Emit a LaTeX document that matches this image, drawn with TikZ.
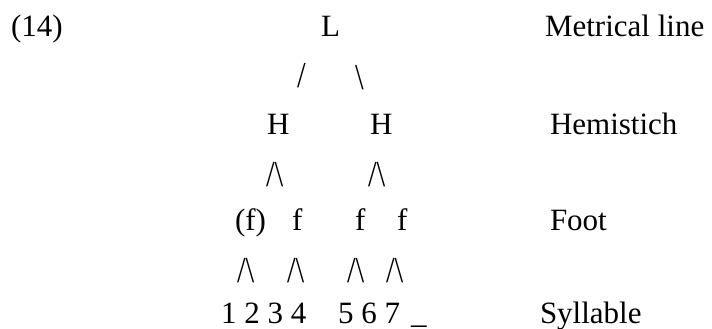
\documentclass[tikz,border=0pt]{standalone}
\usepackage{fontspec}
\usepackage{graphicx}
\setmainfont{Liberation Serif}
\newcommand{\tallsl}[1]{\scalebox{1}[1.18]{#1}}
\begin{document}
\begin{tikzpicture}[x=1pt,y=-1pt,
  txt/.style={anchor=base west,inner sep=0pt,outer sep=0pt,font=\fontsize{31}{36}\selectfont}]
\useasboundingbox (0,0) rectangle (712,329);
% left number
\node[txt] (num) at (11,37) {(14)};
% tree
\node[txt] (L) at (321,37) {L};
\node[txt] (sl1) at (297,87) {\tallsl{/}};
\node[txt] (bs1) at (355,89) {\tallsl{\textbackslash}};
\node[txt] (H1) at (267,134) {H};
\node[txt] (H2) at (370,134) {H};
\node[txt] (v1) at (266,186) {\tallsl{/\textbackslash}};
\node[txt] (v2) at (368,186) {\tallsl{/\textbackslash}};
\node[txt] (f0) at (235,230) {(f)};
\node[txt] (f1) at (292,230) {f};
\node[txt] (f2) at (355,230) {f};
\node[txt] (f3) at (397,230) {f};
\node[txt] (w1) at (237,282) {\tallsl{/\textbackslash}};
\node[txt] (w2) at (287,282) {\tallsl{/\textbackslash}};
\node[txt] (w3) at (347,282) {\tallsl{/\textbackslash}};
\node[txt] (w4) at (386,282) {\tallsl{/\textbackslash}};
\node[txt] (s1) at (221,323) {1 2 3 4};
\node[txt] (s2) at (338,323) {5 6 7};
\node[txt] (s3) at (411,323) {\_};
% level labels
\node[txt] (lab1) at (545,37) {Metrical line};
\node[txt] (lab2) at (550,134) {Hemistich};
\node[txt] (lab3) at (550,230) {Foot};
\node[txt] (lab4) at (540,323) {Syllable};
\end{tikzpicture}
\end{document}
